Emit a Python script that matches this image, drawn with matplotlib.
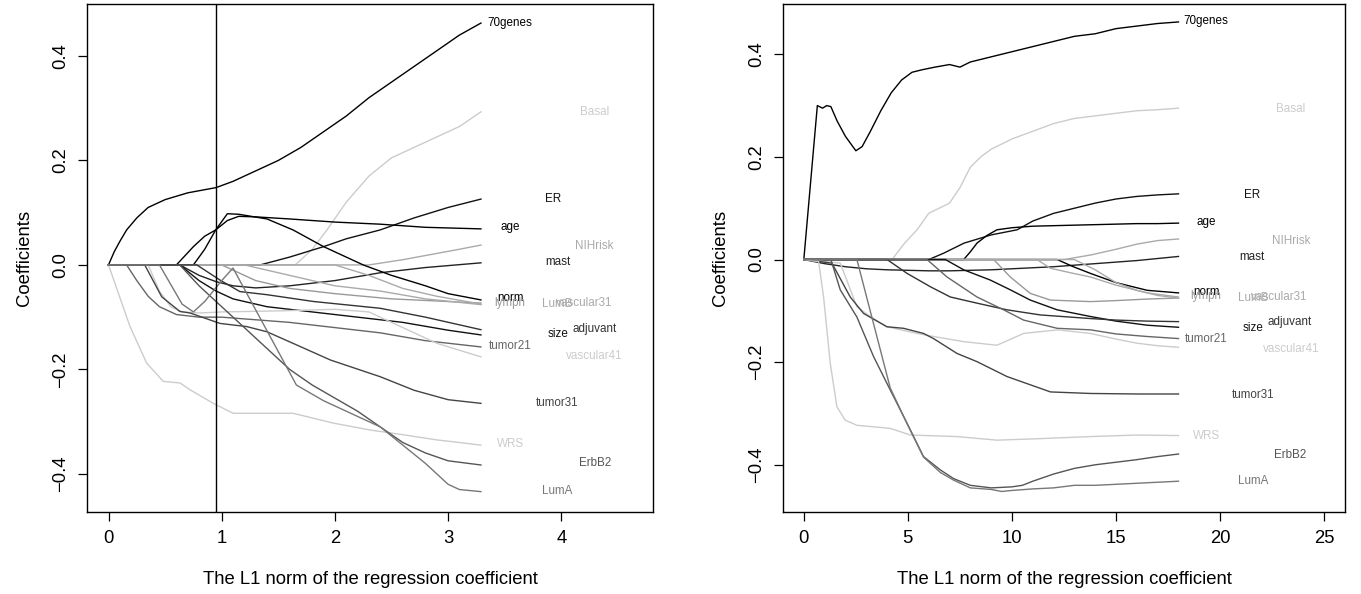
import matplotlib
matplotlib.use("Agg")
import matplotlib.pyplot as plt

plt.rcParams['font.family'] = ['Liberation Sans', 'DejaVu Sans']

# ---------------- data ----------------
variables = ['70genes', 'Basal', 'ER', 'age', 'NIHrisk', 'mast', 'norm', 'lymph',
             'LumB', 'vascular31', 'size', 'adjuvant', 'tumor21', 'vascular41',
             'tumor31', 'WRS', 'ErbB2', 'LumA']
colors = ['#000000', '#cccccc', '#111111', '#000000', '#aaaaaa', '#222222', '#000000', '#999999',
          '#aaaaaa', '#aaaaaa', '#111111', '#333333', '#666666', '#cccccc',
          '#444444', '#cccccc', '#555555', '#777777']
label_y = [0.464, 0.293, 0.126, 0.073, 0.037, 0.005, -0.063, -0.072,
           -0.075, -0.073, -0.133, -0.122, -0.155, -0.174,
           -0.264, -0.343, -0.380, -0.432]
label_x_left = [3.35, 4.165, 3.855, 3.465, 4.12, 3.855, 3.43, 3.41,
                3.83, 3.95, 3.875, 4.10, 3.36, 4.04, 3.775, 3.43, 4.155, 3.83]
label_x_right = [18.24, 22.67, 21.17, 18.86, 22.47, 20.94, 18.72, 18.58,
                 20.84, 21.5, 21.08, 22.28, 18.3, 22.04, 20.56, 18.68, 22.6, 20.84]

left_cut = 0.947  # vertical reference line in the left panel

# ---- left panel paths (L1 norm, coefficient) ----
left_70genes_x = [0, 0.05, 0.1, 0.16, 0.25, 0.35, 0.5, 0.7, 0.95, 1.1, 1.3, 1.5, 1.7, 1.9, 2.1, 2.3, 2.5, 2.7, 2.9, 3.1, 3.29]
left_70genes_y = [0, 0.025, 0.045, 0.067, 0.09, 0.11, 0.125, 0.138, 0.148, 0.16, 0.18, 0.2, 0.225, 0.255, 0.285, 0.32, 0.35, 0.38, 0.41, 0.44, 0.463]
left_Basal_x = [0, 1.65, 1.8, 1.93, 2.1, 2.3, 2.5, 2.7, 2.9, 3.1, 3.29]
left_Basal_y = [0, 0, 0.03, 0.067, 0.12, 0.17, 0.205, 0.225, 0.245, 0.265, 0.293]
left_ER_x = [0, 1.34, 1.6, 1.9, 2.1, 2.4, 2.7, 3.0, 3.29]
left_ER_y = [0, 0, 0.015, 0.035, 0.05, 0.067, 0.09, 0.11, 0.126]
left_age_x = [0, 0.6, 0.75, 0.85, 0.947, 1.05, 1.15, 1.3, 1.6, 2.0, 2.4, 2.8, 3.29]
left_age_y = [0, 0, 0.035, 0.055, 0.067, 0.085, 0.093, 0.092, 0.088, 0.082, 0.078, 0.072, 0.069]
left_NIHrisk_x = [0, 2.3, 2.6, 2.9, 3.1, 3.29]
left_NIHrisk_y = [0, 0, 0.01, 0.022, 0.03, 0.038]
left_mast_x = [0, 0.63, 0.8, 0.95, 1.1, 1.3, 1.6, 2.0, 2.4, 2.8, 3.29]
left_mast_y = [0, 0, -0.02, -0.032, -0.04, -0.044, -0.04, -0.03, -0.015, -0.005, 0.004]
left_norm_x = [0, 0.75, 0.85, 0.947, 1.05, 1.15, 1.4, 1.63, 1.9, 2.25, 2.5, 2.8, 3.0, 3.29]
left_norm_y = [0, 0, 0.03, 0.067, 0.098, 0.097, 0.088, 0.067, 0.035, 0, -0.02, -0.04, -0.055, -0.067]
left_lymph_x = [0, 1.0, 1.3, 1.6, 2.0, 2.5, 3.29]
left_lymph_y = [0, 0, -0.03, -0.045, -0.055, -0.065, -0.073]
left_LumB_x = [0, 1.2, 1.6, 2.0, 2.4, 2.8, 3.29]
left_LumB_y = [0, 0, -0.02, -0.04, -0.05, -0.065, -0.076]
left_vascular31_x = [0, 2.0, 2.3, 2.6, 2.9, 3.29]
left_vascular31_y = [0, 0, -0.02, -0.045, -0.06, -0.075]
left_size_x = [0, 0.63, 0.8, 0.95, 1.1, 1.4, 1.8, 2.2, 2.6, 3.0, 3.29]
left_size_y = [0, 0, -0.03, -0.05, -0.065, -0.08, -0.09, -0.1, -0.11, -0.125, -0.134]
left_adjuvant_x = [0, 0.78, 0.985, 1.16, 1.4, 1.81, 2.4, 2.8, 3.29]
left_adjuvant_y = [0, 0, -0.029, -0.051, -0.057, -0.07, -0.083, -0.1, -0.124]
left_tumor21_x = [0, 0.16, 0.25, 0.35, 0.45, 0.6, 0.8, 1.0, 1.3, 1.6, 2.0, 2.4, 2.8, 3.29]
left_tumor21_y = [0, 0, -0.03, -0.06, -0.08, -0.095, -0.1, -0.1, -0.105, -0.11, -0.12, -0.13, -0.145, -0.157]
left_vascular41_x = [0, 0.35, 0.45, 0.55, 0.65, 0.8, 1.0, 1.5, 2.0, 2.3, 2.6, 2.9, 3.29]
left_vascular41_y = [0, 0, -0.05, -0.08, -0.09, -0.092, -0.09, -0.088, -0.085, -0.09, -0.12, -0.15, -0.176]
left_tumor31_x = [0, 0.32, 0.47, 0.63, 0.72, 0.985, 1.22, 1.4, 1.66, 1.96, 2.4, 2.7, 3.0, 3.29]
left_tumor31_y = [0, 0, -0.061, -0.089, -0.092, -0.112, -0.118, -0.128, -0.153, -0.182, -0.214, -0.24, -0.258, -0.265]
left_WRS_x = [0, 0.19, 0.337, 0.484, 0.632, 0.72, 0.926, 1.10, 1.40, 1.63, 1.99, 2.31, 2.6, 2.9, 3.1, 3.29]
left_WRS_y = [0, -0.118, -0.188, -0.223, -0.226, -0.239, -0.265, -0.284, -0.284, -0.284, -0.303, -0.316, -0.325, -0.335, -0.34, -0.345]
left_ErbB2_x = [0, 0.63, 0.8, 1.0, 1.2, 1.4, 1.6, 1.8, 2.0, 2.2, 2.4, 2.6, 2.8, 3.0, 3.29]
left_ErbB2_y = [0, 0, -0.04, -0.08, -0.12, -0.16, -0.2, -0.23, -0.255, -0.28, -0.31, -0.34, -0.36, -0.375, -0.383]
left_LumA_x = [0, 0.45, 0.65, 0.75, 0.85, 1.0, 1.1, 1.66, 1.9, 2.2, 2.4, 2.6, 2.8, 3.0, 3.1, 3.29]
left_LumA_y = [0, 0, -0.075, -0.09, -0.07, -0.03, -0.006, -0.23, -0.26, -0.29, -0.31, -0.345, -0.38, -0.42, -0.43, -0.434]

# ---- right panel paths ----
right_70genes_x = [0, 0.65, 0.9, 1.1, 1.3, 1.6, 2.0, 2.5, 2.8, 3.2, 3.7, 4.2, 4.7, 5.2, 5.7, 6.3, 7, 7.5, 8, 9, 10, 11, 12, 13, 14, 15, 16, 17, 18]
right_70genes_y = [0, 0.3, 0.295, 0.3, 0.298, 0.27, 0.24, 0.212, 0.22, 0.25, 0.29, 0.325, 0.35, 0.365, 0.37, 0.375, 0.38, 0.375, 0.385, 0.395, 0.405, 0.415, 0.425, 0.435, 0.44, 0.45, 0.455, 0.46, 0.463]
right_Basal_x = [0, 4.24, 4.8, 5.44, 6.0, 6.5, 7.0, 7.5, 8.0, 8.5, 9, 10, 11, 12, 13, 14, 15, 16, 17, 18]
right_Basal_y = [0, 0, 0.03, 0.058, 0.09, 0.1, 0.11, 0.14, 0.18, 0.2, 0.215, 0.235, 0.25, 0.265, 0.275, 0.28, 0.285, 0.29, 0.292, 0.295]
right_ER_x = [0, 6.0, 6.7, 7.7, 9.0, 10.25, 11, 12, 13, 14, 15, 16, 17, 18]
right_ER_y = [0, 0, 0.012, 0.032, 0.048, 0.058, 0.075, 0.09, 0.1, 0.11, 0.118, 0.123, 0.126, 0.128]
right_age_x = [0, 7.68, 8.0, 8.32, 8.8, 9.28, 10, 11, 12, 13, 14, 15, 16, 17, 18]
right_age_y = [0, 0, 0.015, 0.032, 0.047, 0.058, 0.062, 0.065, 0.066, 0.067, 0.068, 0.069, 0.07, 0.07, 0.071]
right_NIHrisk_x = [0, 12.5, 13.8, 15, 16, 17, 18]
right_NIHrisk_y = [0, 0, 0.009, 0.02, 0.03, 0.037, 0.04]
right_mast_x = [0, 1, 2, 3, 4, 5, 6, 7, 8, 9, 10, 11, 12, 13, 14, 15, 16, 17, 18]
right_mast_y = [0, -0.008, -0.014, -0.018, -0.02, -0.021, -0.022, -0.022, -0.021, -0.02, -0.018, -0.016, -0.014, -0.011, -0.008, -0.005, -0.002, 0.002, 0.006]
right_norm_x = [0, 12.17, 12.95, 13.77, 15, 16.5, 18]
right_norm_y = [0, 0, -0.014, -0.027, -0.045, -0.06, -0.065]
right_lymph_x = [0, 9.12, 9.92, 10.88, 11.85, 13.77, 15, 16.5, 18]
right_lymph_y = [0, 0, -0.034, -0.066, -0.079, -0.082, -0.08, -0.077, -0.075]
right_LumB_x = [0, 11.2, 11.85, 12.95, 13.77, 15, 16.5, 18]
right_LumB_y = [0, 0, -0.017, -0.027, -0.034, -0.05, -0.065, -0.073]
right_vascular31_x = [0, 13.0, 14, 15, 16, 17, 18]
right_vascular31_y = [0, 0, -0.02, -0.045, -0.06, -0.07, -0.075]
right_size_x = [0, 6.8, 7.68, 8.96, 9.92, 10.88, 12.17, 13.77, 15, 16.5, 18]
right_size_y = [0, 0, -0.02, -0.04, -0.059, -0.079, -0.098, -0.111, -0.12, -0.128, -0.132]
right_adjuvant_x = [0, 4.0, 4.96, 6.08, 7.04, 8.32, 9.76, 11.37, 13.77, 15, 16.5, 18]
right_adjuvant_y = [0, 0, -0.027, -0.053, -0.073, -0.085, -0.098, -0.108, -0.115, -0.118, -0.12, -0.121]
right_tumor21_x = [0, 5.92, 6.88, 8.32, 9.6, 10.56, 12.17, 13.77, 15, 16.5, 18]
right_tumor21_y = [0, 0, -0.034, -0.073, -0.098, -0.118, -0.134, -0.137, -0.145, -0.15, -0.154]
right_vascular41_x = [0, 1.75, 2.55, 3.19, 4.0, 5.44, 6.24, 7.68, 9.28, 10.56, 12.2, 13.77, 15, 16, 17, 18]
right_vascular41_y = [0, -0.007, -0.092, -0.111, -0.131, -0.144, -0.15, -0.16, -0.167, -0.144, -0.137, -0.144, -0.155, -0.163, -0.168, -0.171]
right_tumor31_x = [0, 1.35, 2.23, 2.87, 3.99, 4.79, 5.75, 6.23, 7.36, 8.32, 9.76, 11.85, 13.77, 16, 18]
right_tumor31_y = [0, -0.007, -0.073, -0.105, -0.131, -0.134, -0.144, -0.154, -0.183, -0.199, -0.228, -0.258, -0.261, -0.262, -0.262]
right_WRS_x = [0, 0.71, 0.95, 1.27, 1.59, 1.99, 2.55, 4.15, 5.12, 7.36, 9.28, 11.37, 13.77, 16, 18]
right_WRS_y = [0, -0.004, -0.073, -0.202, -0.287, -0.313, -0.323, -0.329, -0.342, -0.345, -0.352, -0.349, -0.345, -0.342, -0.343]
right_ErbB2_x = [0, 1.3, 1.75, 2.55, 3.35, 4.15, 4.96, 5.75, 6.56, 7.2, 8, 9, 10, 10.5, 11, 12, 13, 14, 15, 16, 17, 18]
right_ErbB2_y = [0, 0, -0.059, -0.112, -0.189, -0.254, -0.319, -0.384, -0.41, -0.427, -0.44, -0.445, -0.443, -0.44, -0.432, -0.418, -0.407, -0.4, -0.395, -0.39, -0.384, -0.379]
right_LumA_x = [0, 2.55, 4.15, 4.96, 5.75, 6.56, 7.2, 8, 9, 9.5, 10, 11, 12, 13, 14, 15, 16, 17, 18]
right_LumA_y = [0, 0, -0.25, -0.32, -0.385, -0.415, -0.43, -0.445, -0.448, -0.452, -0.45, -0.447, -0.445, -0.44, -0.44, -0.438, -0.436, -0.434, -0.432]

# ---------------- drawing ----------------
g = globals()
left_paths = {v: (g['left_%s_x' % v], g['left_%s_y' % v]) for v in variables}
right_paths = {v: (g['right_%s_x' % v], g['right_%s_y' % v]) for v in variables}

W, H = 1361, 594
fig = plt.figure(figsize=(W / 100, H / 100), dpi=100)
ax1 = fig.add_axes([87 / W, (H - 512) / H, (653 - 87) / W, (512 - 4) / H])
ax2 = fig.add_axes([783 / W, (H - 512) / H, (1345 - 783) / W, (512 - 4) / H])

FS = 13.3
LFS = 8.4


def draw(ax, paths, label_x, xlim, ylim, xticks):
    for v, c in zip(variables, colors):
        xs, ys = paths[v]
        ax.plot(xs, ys, color=c, lw=1.0, solid_joinstyle='round')
    for v, c, lx, ly in zip(variables, colors, label_x, label_y):
        ax.text(lx, ly, v, color=c, fontsize=LFS, ha='left', va='center')
    ax.set_xlim(*xlim)
    ax.set_ylim(*ylim)
    ax.set_xticks(xticks)
    ax.set_yticks([-0.4, -0.2, 0.0, 0.2, 0.4])
    ax.set_yticklabels(['\u22120.4', '\u22120.2', '0.0', '0.2', '0.4'])
    ax.tick_params(direction='out', length=6.5, width=0.9, labelsize=FS, pad=6.5)
    for lab in ax.get_yticklabels():
        lab.set_rotation(90)
        lab.set_va('center')
    for s in ax.spines.values():
        s.set_linewidth(1.0)
    ax.set_xlabel('The L1 norm of the regression coefficient', fontsize=FS)
    ax.set_ylabel('Coefficients', fontsize=FS)
    ax.xaxis.label.set_va('center')
    ax.yaxis.label.set_va('center')
    ax.xaxis.set_label_coords(0.5, -(580 - 512) / 508)


draw(ax1, left_paths, label_x_left, (-0.19, 4.81), (-0.473, 0.4995), [0, 1, 2, 3, 4])
ax1.axvline(left_cut, color='black', lw=1.0)
ax1.yaxis.set_label_coords(-(87 - 25) / 566, 0.5)

draw(ax2, right_paths, label_x_right, (-1.0, 26.0), (-0.492, 0.498), [0, 5, 10, 15, 20, 25])
ax2.yaxis.set_label_coords(-(783 - 721) / 562, 0.5)

fig.savefig('out.png', dpi=100)
